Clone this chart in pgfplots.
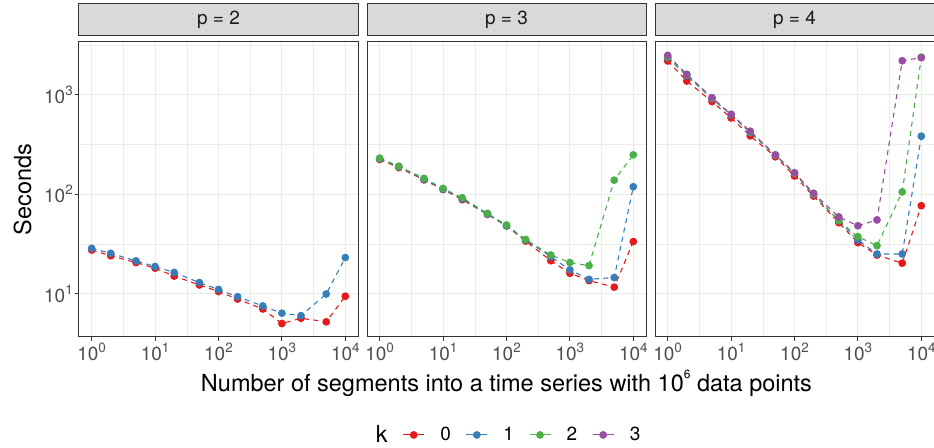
\documentclass[border=0pt]{standalone}
\usepackage{pgfplots}
\pgfplotsset{compat=1.18}
\usepgfplotslibrary{groupplots}
\usepackage{fontspec}
\setmainfont{TeX Gyre Heros}
\definecolor{c0}{HTML}{E41A1C}
\definecolor{c1}{HTML}{377EB8}
\definecolor{c2}{HTML}{4DAF4A}
\definecolor{c3}{HTML}{984EA3}
\definecolor{grey92}{HTML}{EBEBEB}
\definecolor{grey85}{HTML}{D9D9D9}
\definecolor{grey20}{HTML}{333333}
\definecolor{grey30}{HTML}{4D4D4D}
\definecolor{grey10}{HTML}{1A1A1A}
\newcommand{\tp}[1]{10\raisebox{0.42em}{\fontsize{13.5bp}{13.5bp}\selectfont #1}}
\pgfplotsset{
  facet/.style={
    scale only axis, width=279bp, height=295bp,
    xmode=log, ymode=log,
    xmin=0.631, xmax=15849, ymin=3.66, ymax=3380,
    xtick={1,10,100,1000,10000},
    xticklabels={\tp{0},\tp{1},\tp{2},\tp{3},\tp{4}},
    ytick={10,100,1000},
    yticklabels={\tp{1},\tp{2},\tp{3}},
    minor xtick={3.1623,31.623,316.23,3162.3},
    minor ytick={31.623,316.23,3162.3},
    grid=both,
    major grid style={line width=1bp, color=grey92},
    minor grid style={line width=0.5bp, color=grey92},
    axis line style={line width=1bp, color=grey20},
    tick style={line width=1bp, color=grey20},
    major tick length=4bp, minor tick length=0pt,
    tick align=outside, tick pos=left,
    ticklabel style={font=\fontsize{19bp}{19bp}\selectfont, text=grey30},
    xticklabel style={inner sep=2bp},
    yticklabel style={inner sep=2bp},
    title style={at={(0.5,1)}, anchor=south, yshift=0pt, fill=grey85, draw=grey20,
      line width=1bp, minimum width=279bp, minimum height=32bp, inner sep=0pt,
      text=grey10, font=\fontsize{19bp}{19bp}\selectfont},
    every axis plot/.append style={line width=1.1bp, dash pattern=on 5bp off 4.5bp,
      mark=*, mark size=3.3bp, mark options={solid}},
    legend image code/.code={\draw[mark repeat=2,mark phase=2,#1,solid]
      plot coordinates {(0bp,0bp)(10.5bp,0bp)(21bp,0bp)};},
  },
  k0/.style={color=c0, mark options={fill=c0, draw=c0, solid}},
  k1/.style={color=c1, mark options={fill=c1, draw=c1, solid}},
  k2/.style={color=c2, mark options={fill=c2, draw=c2, solid}},
  k3/.style={color=c3, mark options={fill=c3, draw=c3, solid}},
}
\begin{document}
\begin{tikzpicture}
\begin{groupplot}[group style={group size=3 by 1, horizontal sep=9bp}, facet]
\nextgroupplot[title={p = 2},
  ylabel={Seconds},
  ylabel style={at={(axis description cs:-0.202,0.5)}, anchor=center,
    font=\fontsize{23.5bp}{23.5bp}\selectfont, text=black}]
\coordinate (bl) at (rel axis cs:0,0);
\addplot[k0] coordinates {(1,27.4)(2,24)(5,20.5)(10,18)(20,15)(50,12.2)(100,10.5)(200,8.8)(500,7.0)(1000,5.0)(2000,5.65)(5000,5.2)(10000,9.4)};
\addplot[k1] coordinates {(1,28.5)(2,25.4)(5,21.3)(10,18.7)(20,16.3)(50,12.9)(100,11)(200,9.3)(500,7.5)(1000,6.35)(2000,6.0)(5000,9.9)(10000,23)};
\nextgroupplot[title={p = 3}, yticklabels={}, ytick style={draw=none},
  xlabel={Number of segments into a time series with 10\raisebox{0.55em}{\fontsize{12bp}{12bp}\selectfont 6} data points},
  xlabel style={at={(axis description cs:0.5,-0.156)}, anchor=center,
    font=\fontsize{23.5bp}{23.5bp}\selectfont, text=black},
  legend style={at={(0.478,-0.332)}, anchor=center, draw=none, fill=none,
    legend columns=-1, font=\fontsize{19bp}{19bp}\selectfont,
    nodes={inner xsep=0pt},
    /tikz/every odd column/.append style={column sep=15.5bp},
    /tikz/every even column/.append style={column sep=15bp}}]
\addlegendimage{empty legend}\addlegendentry{\fontsize{23.5bp}{23.5bp}\selectfont k}
\addplot[k0] coordinates {(1,223)(2,185)(5,139)(10,111)(20,88)(50,62.5)(100,47.8)(200,33.7)(500,21.4)(1000,16)(2000,13.5)(5000,11.6)(10000,33.3)};
\addlegendentry{0}
\addplot[k1] coordinates {(1,226)(2,188)(5,141)(10,112)(20,90)(50,63)(100,48)(200,34.5)(500,23.5)(1000,17.3)(2000,13.9)(5000,14.5)(10000,118.6)};
\addlegendentry{1}
\addplot[k2] coordinates {(1,230)(2,191)(5,144)(10,114)(20,92)(50,64)(100,48.9)(200,35)(500,24.4)(1000,20.5)(2000,19.1)(5000,138)(10000,248)};
\addlegendentry{2}
\addlegendimage{k3, line width=1.1bp, mark=*, mark size=3.3bp}
\addlegendentry{3}
\nextgroupplot[title={p = 4}, yticklabels={}, ytick style={draw=none}]
\addplot[k0] coordinates {(1,2180)(2,1370)(5,851)(10,583)(20,385)(50,237)(100,152)(200,95.5)(500,51.6)(1000,32.5)(2000,24.4)(5000,20.2)(10000,76.4)};
\addplot[k1] coordinates {(1,2350)(2,1550)(5,910)(10,625)(20,415)(50,245)(100,163)(200,99)(500,54)(1000,34.5)(2000,25)(5000,25)(10000,382)};
\addplot[k2] coordinates {(1,2400)(2,1580)(5,920)(10,630)(20,420)(50,246)(100,162)(200,100)(500,54)(1000,37.3)(2000,30.3)(5000,105)(10000,2380)};
\addplot[k3] coordinates {(1,2480)(2,1600)(5,933)(10,635)(20,429)(50,248)(100,164)(200,102)(500,59)(1000,48)(2000,55)(5000,2190)(10000,2350)};
\end{groupplot}
\pgfresetboundingbox
\path (bl) ++(-79bp,-111bp) rectangle ++(934bp,448bp);
\end{tikzpicture}
\end{document}
